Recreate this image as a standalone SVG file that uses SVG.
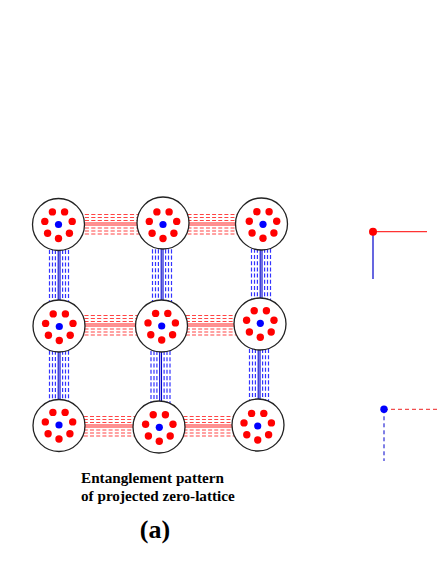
<svg xmlns="http://www.w3.org/2000/svg" width="440" height="570" viewBox="0 0 440 570">
<defs>
<style>
.node{fill:#fff;stroke:#222;stroke-width:1.3}
.rd{fill:#f00}
.bd{fill:#00f}
.rs{stroke:#f22;stroke-width:1.1;fill:none}
.rdash{stroke:#f44;stroke-width:1.2;stroke-dasharray:4 2.2;fill:none}
.bs{stroke:#00c;stroke-width:1.1;fill:none}
.bdash{stroke:#33f;stroke-width:1.2;stroke-dasharray:4 2.2;fill:none}
.t{font-family:"Liberation Serif","Times New Roman",serif;font-weight:bold;fill:#000}
</style>
<g id="dots">
<circle class="rd" cx="0" cy="14" r="3.7"/>
<circle class="rd" cx="-10.9" cy="8.7" r="3.7"/>
<circle class="rd" cx="-13.7" cy="-3.1" r="3.7"/>
<circle class="rd" cx="-6.1" cy="-12.6" r="3.7"/>
<circle class="rd" cx="6.1" cy="-12.6" r="3.7"/>
<circle class="rd" cx="13.7" cy="-3.1" r="3.7"/>
<circle class="rd" cx="10.9" cy="8.7" r="3.7"/>
<circle class="bd" cx="0" cy="0" r="3.6"/>
</g>
<g id="hb">
<line class="rdash" x1="0" y1="-9.5" x2="100" y2="-9.5"/>
<line class="rdash" x1="0" y1="-6.5" x2="100" y2="-6.5"/>
<line class="rdash" x1="0" y1="-3.5" x2="100" y2="-3.5"/>
<line class="rs" x1="0" y1="-1" x2="100" y2="-1"/>
<line class="rs" x1="0" y1="1" x2="100" y2="1"/>
<line class="rdash" x1="0" y1="4" x2="100" y2="4"/>
<line class="rdash" x1="0" y1="7" x2="100" y2="7"/>
<line class="rdash" x1="0" y1="10" x2="100" y2="10"/>
</g>
<g id="vb">
<line class="bdash" x1="-9.5" y1="0" x2="-9.5" y2="100"/>
<line class="bdash" x1="-6.5" y1="0" x2="-6.5" y2="100"/>
<line class="bdash" x1="-3.6" y1="0" x2="-3.6" y2="100"/>
<line class="bs" x1="-0.8" y1="0" x2="-0.8" y2="100"/>
<line class="bs" x1="1" y1="0" x2="1" y2="100"/>
<line class="bdash" x1="3.6" y1="0" x2="3.6" y2="100"/>
<line class="bdash" x1="6.5" y1="0" x2="6.5" y2="100"/>
<line class="bdash" x1="9.5" y1="0" x2="9.5" y2="100"/>
</g>
</defs>
<rect width="440" height="570" fill="#fff"/>
<g id="connectors">
<use href="#hb" transform="translate(59,224) scale(1.04,1)"/>
<use href="#hb" transform="translate(163,224) scale(0.99,1)"/>
<use href="#hb" transform="translate(59,325) scale(1.025,1)"/>
<use href="#hb" transform="translate(161.5,325) scale(0.985,1)"/>
<use href="#hb" transform="translate(59,426) scale(1.0,1)"/>
<use href="#hb" transform="translate(159,426) scale(0.99,1)"/>
<use href="#vb" transform="translate(59,225) scale(1,1.01)"/>
<use href="#vb" transform="translate(59,326) scale(1,1)"/>
<use href="#vb" transform="translate(162,224) scale(1,1.02)"/>
<use href="#vb" transform="translate(160.5,326) scale(1,1.01)"/>
<use href="#vb" transform="translate(261,224) scale(1,1.0)"/>
<use href="#vb" transform="translate(259,324) scale(1,1.01)"/>
</g>
<g id="n11"><circle class="node" cx="58.5" cy="224.5" r="26"/><use href="#dots" x="58.5" y="224.5"/></g>
<g id="n12"><circle class="node" cx="163" cy="223" r="26"/><use href="#dots" x="163" y="224.5"/></g>
<g id="n13"><circle class="node" cx="261.5" cy="224" r="26"/><use href="#dots" x="263" y="224.3"/></g>
<g id="n21"><circle class="node" cx="59" cy="326" r="26"/><use href="#dots" x="59.3" y="326.5"/></g>
<g id="n22"><circle class="node" cx="161.5" cy="326" r="26"/><use href="#dots" x="161.7" y="326"/></g>
<g id="n23"><circle class="node" cx="260" cy="324" r="26"/><use href="#dots" x="260.3" y="323.3"/></g>
<g id="n31"><circle class="node" cx="59" cy="425.5" r="26"/><use href="#dots" x="59" y="425"/></g>
<g id="n32"><circle class="node" cx="159" cy="427" r="26"/><use href="#dots" x="159.3" y="427.3"/></g>
<g id="n33"><circle class="node" cx="258" cy="425" r="26"/><use href="#dots" x="257.7" y="426"/></g>
<g id="legend-solid">
<line x1="373" y1="231.7" x2="427" y2="231.7" stroke="#f33" stroke-width="1.2"/>
<line x1="373" y1="231.7" x2="373" y2="279" stroke="#00c" stroke-width="1.2"/>
<circle cx="373" cy="231.7" r="4" fill="#f00"/>
</g>
<g id="legend-dashed">
<line x1="384" y1="409.3" x2="440" y2="409.3" stroke="#e22" stroke-width="1" stroke-dasharray="4 3"/>
<line x1="384" y1="409.3" x2="384" y2="461" stroke="#00c" stroke-width="1" stroke-dasharray="4 3"/>
<circle cx="384" cy="409.3" r="3.7" fill="#00f"/>
</g>
<text class="t" x="81" y="483" font-size="15.2">Entanglement pattern</text>
<text class="t" x="81" y="501" font-size="15.2">of projected zero-lattice</text>
<text class="t" x="155" y="538" font-size="26" text-anchor="middle">(a)</text>
</svg>
